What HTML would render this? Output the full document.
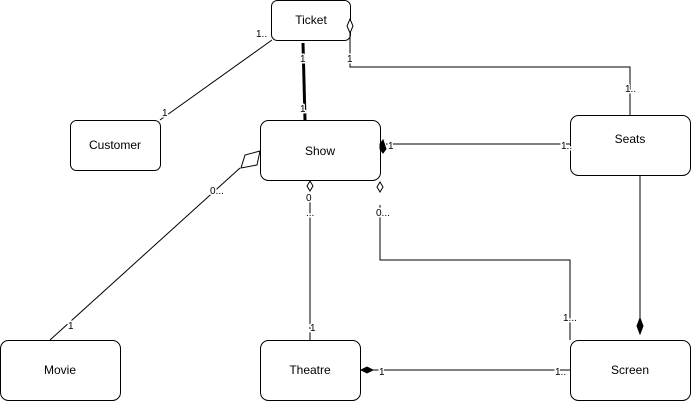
<!DOCTYPE html>
<html><head><style>
html,body{margin:0;padding:0;background:#fff;}
svg{display:block;font-family:"Liberation Sans",Arial,sans-serif;}
</style></head><body>
<svg width="691" height="401" viewBox="0 0 691 401" xmlns="http://www.w3.org/2000/svg">
<g fill="#fff" stroke="#000" stroke-width="1">
<rect x="271.5" y="0.5" width="79" height="40" rx="6"/>
<rect x="70.5" y="120.5" width="90" height="50" rx="6"/>
<rect x="260.5" y="120.5" width="120" height="60" rx="8"/>
<rect x="570.5" y="115.5" width="120" height="60" rx="8"/>
<rect x="0.5" y="340.5" width="120" height="60" rx="8"/>
<rect x="260.5" y="340.5" width="100" height="60" rx="8"/>
<rect x="570.5" y="340.5" width="120" height="60" rx="8"/>
</g>
<g font-size="12" text-anchor="middle" fill="#000">
<text x="311" y="24">Ticket</text>
<text x="115" y="149">Customer</text>
<text x="320" y="155">Show</text>
<text x="630" y="143">Seats</text>
<text x="60" y="374">Movie</text>
<text x="310" y="374">Theatre</text>
<text x="630" y="374">Screen</text>
</g>
<g stroke="#000" fill="none" stroke-width="1">
<line x1="272" y1="40" x2="160" y2="120"/>
<line x1="303" y1="43" x2="305" y2="120" stroke-width="3"/>
<polyline points="350,32 350,67 630,67 630,115"/>
<polyline points="386,144 570,144"/>
<line x1="240" y1="168" x2="50" y2="340"/>
<line x1="310" y1="202" x2="310" y2="340"/>
<polyline points="380,205 380,260 570,260 570,340"/>
<line x1="640" y1="175" x2="640" y2="318"/>
<line x1="372" y1="370" x2="570" y2="370"/>
</g>
<g stroke="#000" stroke-width="1">
<polygon points="350,19 353,26 350,33 347,26" fill="#fff"/>
<polygon points="380,144 383,140 386,149 383,153 380,149" fill="#000"/>
<polygon points="260,151 257,165 241,168 245,155" fill="#fff"/>
<polygon points="310,181 313,186 310,191 307,186" fill="#fff"/>
<polygon points="380,182 383,187 380,192 377,187" fill="#fff"/>
<polygon points="640,318 643,326 640,334 637,326" fill="#000"/>
<polygon points="361,370 367,367 373,370 367,373" fill="#000"/>
</g>
<g font-size="10" fill="#000" stroke="#fff" stroke-width="3" paint-order="stroke" stroke-linejoin="round">
<text x="256" y="37">1..</text>
<text x="162" y="116">1</text>
<text x="300" y="62">1</text>
<text x="300" y="112">1</text>
<text x="347" y="62">1</text>
<text x="625" y="92">1..</text>
<text x="388" y="149">1</text>
<text x="561" y="149">1..</text>
<text x="210" y="194">0...</text>
<text x="68" y="329">1</text>
<text x="306" y="201">0</text>
<text x="306" y="216">...</text>
<text x="310" y="331">1</text>
<text x="376" y="216">0...</text>
<text x="563" y="321">1...</text>
<text x="379" y="375">1</text>
<text x="555" y="375">1..</text>
</g>
</svg>
</body></html>
